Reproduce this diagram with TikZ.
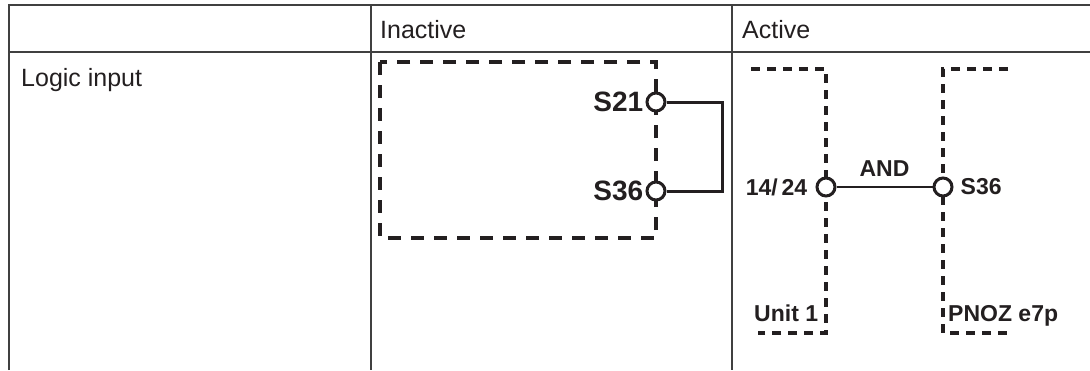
\documentclass[tikz,border=0pt]{standalone}
\usepackage{fontspec}
\setmainfont{Liberation Sans}
\definecolor{ink}{HTML}{231F20}
\definecolor{grid}{HTML}{404040}
\begin{document}
\begin{tikzpicture}[x=1pt,y=-1pt,
  gridline/.style={draw=grid,line width=1.4pt},
  head/.style={font=\fontsize{25}{28}\selectfont,text=ink,anchor=base west,inner sep=0pt},
  bigbox/.style={draw=ink,line width=3.2pt,dash pattern=on 13pt off 10pt},
  unitline/.style={draw=ink,line width=3.2pt,dash pattern=on 9pt off 7pt},
  wire/.style={draw=ink,line width=3pt},
  term/.style={circle,draw=ink,line width=3pt,fill=white,minimum size=18pt,inner sep=0pt},
  biglab/.style={font=\bfseries\fontsize{28}{30}\selectfont,text=ink,inner sep=0pt},
  lab/.style={font=\bfseries\fontsize{23}{25}\selectfont,text=ink,inner sep=0pt}]
\useasboundingbox (0,0) rectangle (1090,370);
% table
\draw[gridline] (9,370) -- (9,5) -- (1090,5);
\draw[gridline] (9,52) -- (1090,52);
\draw[gridline] (371,5) -- (371,370);
\draw[gridline] (732,5) -- (732,370);
\node[head] (hin) at (380,38) {Inactive};
\node[head] (hac) at (742,38) {Active};
\node[head] (hli) at (21,86) {Logic input};
% inactive
\draw[bigbox] (380,62) rectangle (656,238);
\coordinate (cr1) at (722,102);
\coordinate (cr2) at (722,191);
\node[term] (s21) at (656,102) {};
\node[term] (s36) at (656,191) {};
\draw[wire] (s21.east) -- (cr1) -- (cr2) -- (s36.east);
\node[biglab,anchor=east] (ls21) at ([xshift=-2pt]s21.west) {S21};
\node[biglab,anchor=east] (ls36) at ([xshift=-2pt]s36.west) {S36};
% active
\draw[unitline] (751,69) -- (826,69) -- (826,333) -- (758,333);
\draw[unitline] (1008,69) -- (943,69) -- (943,333) -- (1007,333);
\node[term] (a1) at (826,187) {};
\node[term] (a2) at (943,187) {};
\draw[wire,line width=2.4pt] (a1.east) -- node[lab,above=9pt] (and) {AND} (a2.west);
\node[lab,anchor=east] (l1424) at ([xshift=-8pt]a1.west) {14/\,24};
\node[lab,anchor=west] (ls36b) at ([xshift=7pt]a2.east) {S36};
\node[lab,anchor=base west] (lu1) at (754,321) {Unit 1};
\node[lab,anchor=base west] (lpn) at (948,321) {PNOZ e7p};
\end{tikzpicture}
\end{document}
